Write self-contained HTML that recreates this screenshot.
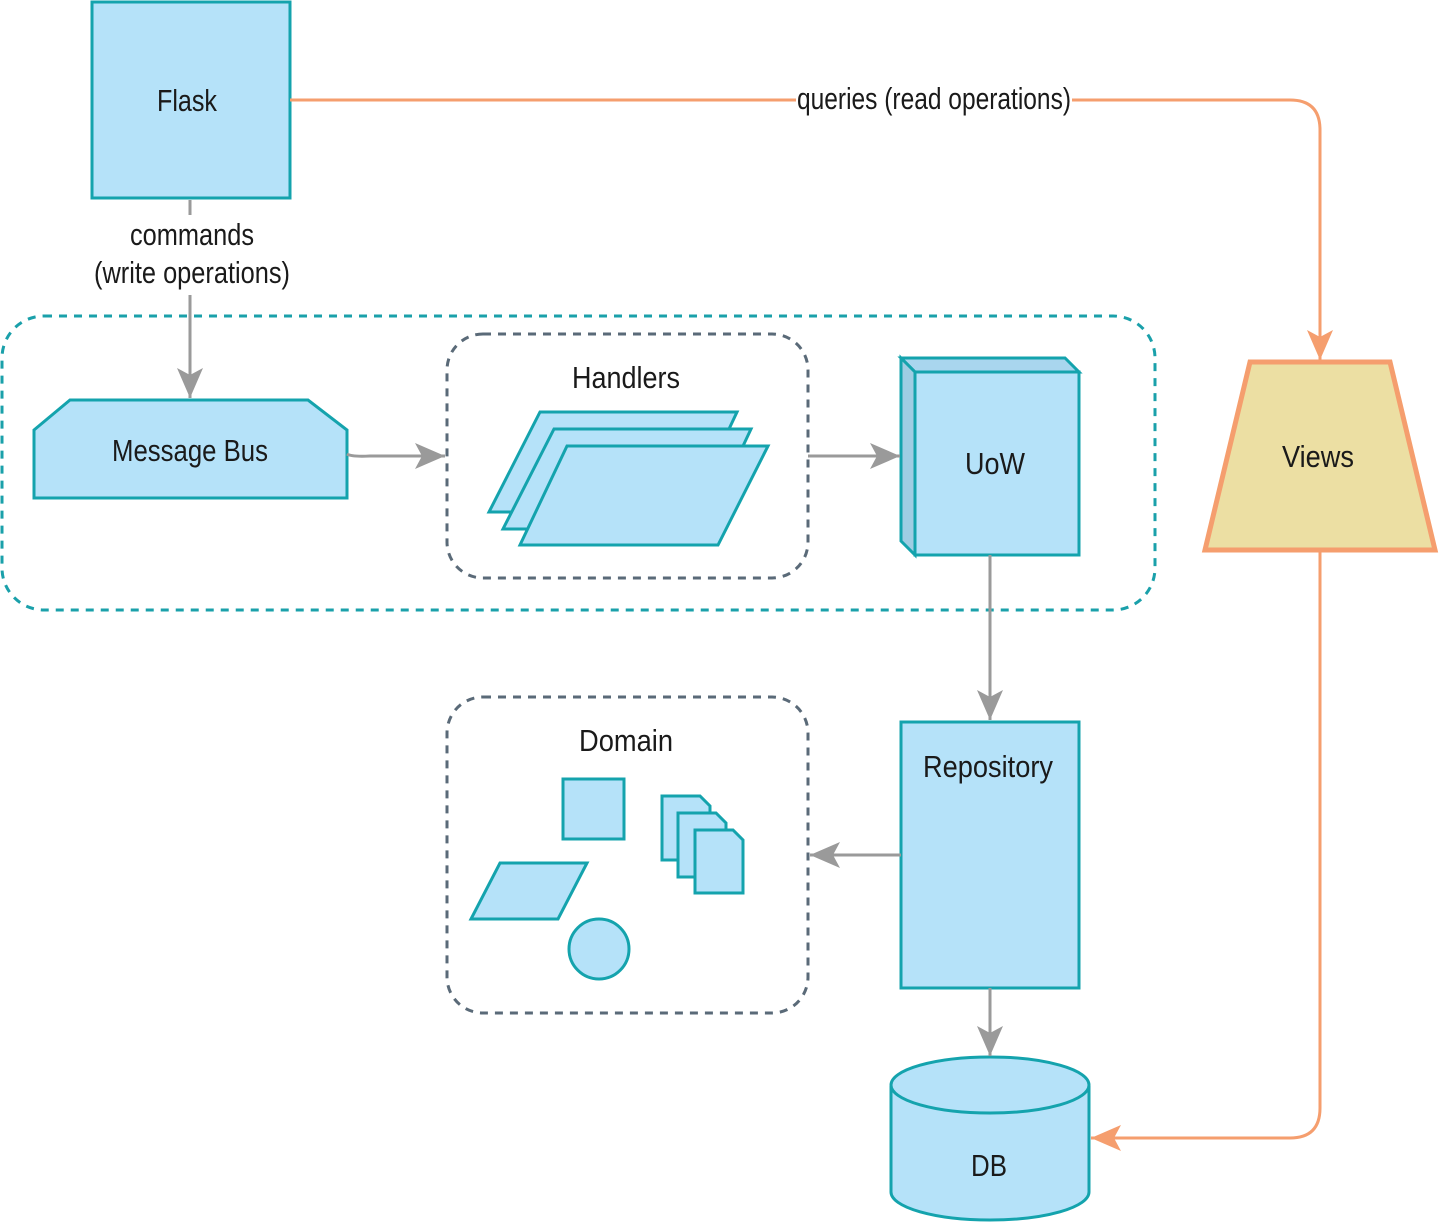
<!DOCTYPE html>
<html><head><meta charset="utf-8"><style>
html,body{margin:0;padding:0;background:#fff;}
svg{display:block;}
text{font-family:"Liberation Sans Narrow","Liberation Sans",sans-serif;fill:#1a1a1a;}
</style></head><body>
<svg width="1440" height="1226" viewBox="0 0 1440 1226" xmlns="http://www.w3.org/2000/svg">
<defs>
<marker id="ag" markerWidth="32" markerHeight="26" refX="30" refY="13" orient="auto" markerUnits="userSpaceOnUse">
<path d="M0,0 L30,13 L0,26 L7,13 Z" fill="#9a9a9a"/></marker>
<marker id="ao" markerWidth="32" markerHeight="26" refX="30" refY="13" orient="auto" markerUnits="userSpaceOnUse">
<path d="M0,0 L30,13 L0,26 L7,13 Z" fill="#f59e6e"/></marker>
</defs>
<g fill="#b5e2f9" stroke="#14a3ad" stroke-width="3">
<!-- outer dashed -->
<rect x="2" y="316" width="1153" height="294" rx="42" fill="none" stroke="#1aa0aa" stroke-dasharray="8,7"/>
<rect x="447" y="334" width="361" height="244" rx="36" fill="none" stroke="#5a6a78" stroke-dasharray="8,7"/>
<rect x="447" y="697" width="361" height="316" rx="36" fill="none" stroke="#5a6a78" stroke-dasharray="8,7"/>
<rect x="92" y="2" width="198" height="196"/>
<polygon points="34,430 70,400 308,400 347,430 347,498 34,498"/>
<polygon points="540,412 737,412 690,512 489,512"/>
<polygon points="554,429 751,429 704,529 503,529"/>
<polygon points="567,446 768,446 718,545 520,545"/>
<polygon points="901,358 1065,358 1079,372 915,372" fill="#a9d6ee"/>
<polygon points="901,358 915,372 915,555 901,541" fill="#9fcde3"/>
<rect x="915" y="372" width="164" height="183"/>
<rect x="901" y="722" width="178" height="266"/>
<rect x="563" y="779" width="61" height="60"/>
<polygon points="500,863 587,863 558,919 471,919"/>
<circle cx="599" cy="949" r="30"/>
<path d="M662,796 H700 L710,806 V860 H662 Z"/>
<path d="M678,813 H716 L726,823 V877 H678 Z"/>
<path d="M695,830 H733 L743,840 V893 H695 Z"/>
<path d="M891,1086 V1192 A99,28 0 0 0 1089,1192 V1086"/>
<ellipse cx="990" cy="1085" rx="99" ry="28"/>
<polygon points="1250,362 1390,362 1435,550 1205,550" fill="#ecdfa3" stroke="#f59e6e" stroke-width="5"/>
</g>
<g fill="none" stroke="#9a9a9a" stroke-width="3">
<line x1="190" y1="200" x2="190" y2="215"/>
<line x1="190" y1="295" x2="190" y2="398" marker-end="url(#ag)"/>
<path d="M347,454 Q352,457 370,456 L445,456" marker-end="url(#ag)"/>
<line x1="808" y1="456" x2="900" y2="456" marker-end="url(#ag)"/>
<line x1="990" y1="555" x2="990" y2="720" marker-end="url(#ag)"/>
<line x1="901" y1="855" x2="810" y2="855" marker-end="url(#ag)"/>
<line x1="990" y1="988" x2="990" y2="1056" marker-end="url(#ag)"/>
</g>
<g fill="none" stroke="#f59e6e" stroke-width="3">
<path d="M290,100 H1290 Q1320,100 1320,130 V360" marker-end="url(#ao)"/>
<path d="M1320,550 V1108 Q1320,1138 1290,1138 H1091" marker-end="url(#ao)"/>
</g>
<rect x="796" y="84" width="276" height="32" fill="#fff"/>
<rect x="120" y="218" width="150" height="74" fill="#fff"/>
<g font-size="31" text-anchor="middle">
<text x="187" y="111" textLength="60" lengthAdjust="spacingAndGlyphs">Flask</text>
<text x="934" y="109" textLength="274" lengthAdjust="spacingAndGlyphs">queries (read operations)</text>
<text x="192" y="245" textLength="124" lengthAdjust="spacingAndGlyphs">commands</text>
<text x="192" y="283" textLength="196" lengthAdjust="spacingAndGlyphs">(write operations)</text>
<text x="190" y="461" textLength="156" lengthAdjust="spacingAndGlyphs">Message Bus</text>
<text x="626" y="388" textLength="108" lengthAdjust="spacingAndGlyphs">Handlers</text>
<text x="995" y="474" textLength="60" lengthAdjust="spacingAndGlyphs">UoW</text>
<text x="1318" y="467" textLength="72" lengthAdjust="spacingAndGlyphs">Views</text>
<text x="988" y="777" textLength="130" lengthAdjust="spacingAndGlyphs">Repository</text>
<text x="626" y="751" textLength="94" lengthAdjust="spacingAndGlyphs">Domain</text>
<text x="989" y="1176" textLength="36" lengthAdjust="spacingAndGlyphs">DB</text>
</g>
</svg>
</body></html>
